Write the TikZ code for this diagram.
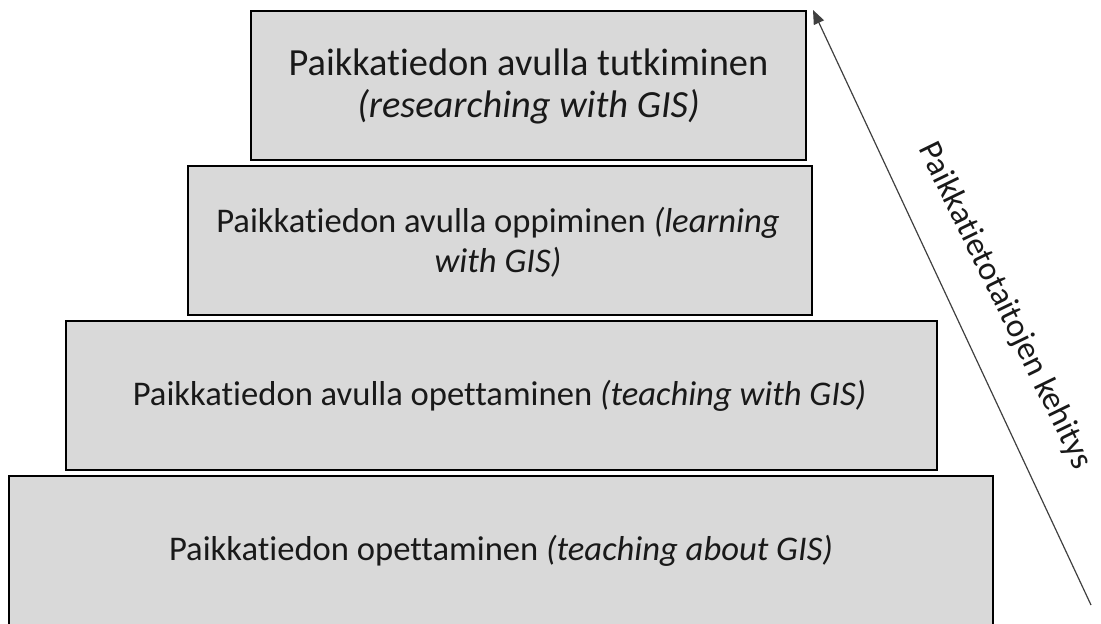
\documentclass[tikz,border=0pt]{standalone}
\usepackage{fontspec}
\setmainfont{Carlito}[Ligatures={NoCommon,NoRequired,NoContextual}]
\usetikzlibrary{arrows.meta}
\begin{document}
\begin{tikzpicture}[x=1pt,y=-1pt,
  tier/.style={draw=black, line width=2pt, fill=boxgray},
  tiertext/.style={font=\fontsize{34.6}{40}\selectfont, align=center, text=black!90},
  axis/.style={draw=black!75, line width=1.2pt, -{Triangle[length=14pt,width=11pt]}}]
\definecolor{boxgray}{HTML}{D9D9D9}
\useasboundingbox (0,0) rectangle (1101,624);
\clip (0,0) rectangle (1101,624);
\draw[tier] (251,11) rectangle (806,160);
\draw[tier] (188,166) rectangle (812,315);
\draw[tier] (66,321) rectangle (937,470);
\draw[tier] (9,476) rectangle (993,630);
\node[tiertext, font=\fontsize{38.4}{42}\selectfont] (t1) at (528.5,86) {Paikkatiedon avulla tutkiminen\\\textit{(researching with GIS)}};
\node[tiertext] (t2) at (498,242) {Paikkatiedon avulla oppiminen \textit{(learning}\\\textit{with GIS)}};
\node[tiertext] (t3) at (499.5,396) {Paikkatiedon avulla opettaminen \textit{(teaching with GIS)}};
\node[tiertext] (t4) at (501,551) {Paikkatiedon opettaminen \textit{(teaching about GIS)}};
\coordinate (tail) at (1091,605);
\coordinate (tip) at (813,10);
\draw[axis] (tail) -- (tip);
\node[tiertext, font=\fontsize{33.5}{40}\selectfont, rotate=-64] (lab) at (1005,306) {Paikkatietotaitojen kehitys};
\end{tikzpicture}
\end{document}
